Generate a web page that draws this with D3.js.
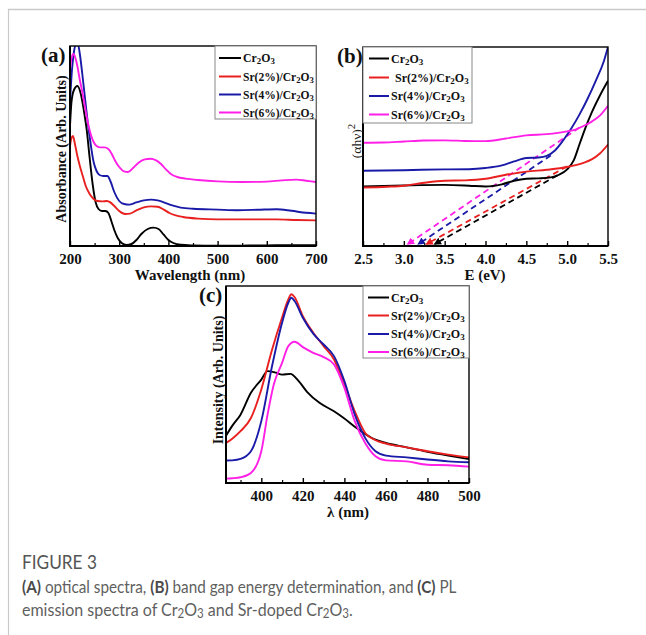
<!DOCTYPE html>
<html><head><meta charset="utf-8">
<script src="https://cdn.jsdelivr.net/npm/d3@7"></script>
<style>body{margin:0;background:#fff}svg{display:block}</style>
</head><body>
<svg id="fig" width="646" height="635"></svg>
<script>
// ---------- DATA ----------
const seriesPrefix = ["", "Sr(2%)/", "Sr(4%)/", "Sr(6%)/"];
const seriesColors = ["#000000", "#e8201f", "#1a1aa8", "#ff1fe6"];

// Panel (a) absorbance vs wavelength (nm)
const absCr2O3 = [[200,60],[203,72],[208,78],[215,80],[222,76],[228,68],[234,58],[240,44],[246,31],[252,22],[258,18.5],[265,17.5],[272,17.5],[278,16.5],[284,12.5],[290,8],[297,4],[305,1.5],[315,0.5],[325,1],[335,3],[345,6],[358,8.5],[370,9.2],[380,8.5],[390,5.8],[400,3],[410,1.5],[425,0.6],[450,0.3],[500,0.1],[550,0.2],[600,0.3],[650,0.4],[700,0.4]];
const absSr2 = [[200,50],[203,54],[206,55],[210,51],[215,45],[220,40],[226,35],[232,30],[240,26],[248,23.5],[256,22.5],[265,22.3],[275,22.5],[282,21.8],[290,20],[300,17.5],[312,16],[322,16.2],[335,17.8],[350,19.3],[365,19.8],[378,19.6],[390,18.3],[402,16.5],[415,15.3],[430,14.5],[460,13.7],[500,13.3],[560,13.3],[620,13.3],[660,13],[700,12.8]];
const absSr4 = [[200,72],[204,88],[208,97],[212,101],[216,101],[220,96],[225,86],[230,75],[236,62],[242,51],[248,42],[254,37.5],[260,35.5],[268,35],[276,35],[282,32.5],[290,27],[300,22.5],[310,21],[320,20.7],[335,21.8],[350,22.8],[365,23.2],[378,22.8],[392,21.7],[408,20.3],[425,19.2],[450,18.6],[500,18.2],[540,17.9],[580,18.1],[620,18.4],[650,17.6],[680,16.6],[700,16.2]];
const absSr6 = [[200,88],[203,94],[207,96],[211,94],[215,90],[220,83],[225,77],[230,70],[236,62],[242,56],[248,52],[254,50],[262,49.3],[270,49.3],[278,48.5],[285,46],[292,42.5],[300,39.5],[310,37.3],[318,37],[328,39],[340,41.8],[352,43.3],[364,43.6],[375,42.8],[385,41],[395,38.3],[405,36],[418,34.5],[435,33.7],[460,33],[500,32.3],[550,32],[600,32.2],[630,32.8],[660,33.2],[680,32.6],[700,32]];
const absTicks = [200,300,400,500,600,700];
const absMinor = [250,350,450,550,650];

// Panel (b) (alpha h nu)^2 vs E (eV)
const taucCr2O3 = [[2.5,29.9],[3.0,30.4],[3.5,30.7],[3.8,30.3],[4.0,29.9],[4.2,31],[4.35,32.8],[4.5,33.8],[4.65,34],[4.8,34.5],[4.9,35.8],[5.0,38.5],[5.08,43],[5.15,51],[5.22,59],[5.3,67],[5.4,75.5],[5.5,83]];
const taucSr2 = [[2.5,29.4],[2.8,29.8],[3.0,30.3],[3.25,31.8],[3.5,32.8],[3.75,33],[4.0,33.8],[4.25,35.8],[4.5,37.4],[4.75,38.3],[5.0,39.7],[5.2,41.8],[5.3,43.5],[5.4,46.5],[5.5,51]];
const taucSr4 = [[2.5,37.8],[3.0,38.1],[3.5,38.5],[3.8,38.6],[4.0,39.2],[4.2,40.5],[4.35,42.5],[4.5,44.2],[4.65,44.5],[4.75,45.3],[4.85,48],[4.95,53],[5.05,59],[5.15,66],[5.25,74],[5.35,83],[5.45,93],[5.5,100]];
const taucSr6 = [[2.5,51.9],[2.75,52],[3.0,52.5],[3.25,53],[3.5,53.1],[3.75,52.8],[4.0,52.7],[4.25,54],[4.5,55.6],[4.75,56.2],[5.0,57.6],[5.1,58.5],[5.2,60.3],[5.3,62.5],[5.4,65.5],[5.5,70.5]];
// tangent extrapolations: [upper point on curve, band-gap intercept]
const tangentLines = [
  [[4.88,35.5],[3.38,0]],
  [[5.0,40],[3.28,0]],
  [[4.8,45.5],[3.18,0]],
  [[5.15,59.5],[3.05,0]]
];
const tauTicks = [2.5,3.0,3.5,4.0,4.5,5.0,5.5];
const tauMinor = [2.75,3.25,3.75,4.25,4.75,5.25];

// Panel (c) PL intensity vs lambda (nm)
const plCr2O3 = [[383,24],[386,29],[390,34.7],[395,45.8],[400,52.5],[403,56.8],[407,56],[410,55],[414,55.4],[418,51.7],[422,46.3],[428,40.7],[435,36.4],[440,32.7],[445,28.5],[450,24.9],[455,22],[460,20.3],[470,18.1],[480,15.8],[490,13.9],[500,12.2]];
const plSr2 = [[383,20.3],[386,22.5],[390,26.3],[395,33],[400,47.5],[405,67],[410,84],[413,93.2],[414.5,95.8],[416,94.4],[420,84.7],[425,76.3],[430,69.5],[435,62.7],[440,50],[445,36.4],[450,25.4],[455,21.7],[460,20],[470,18.1],[480,16.1],[490,14.4],[500,13]];
const plSr4 = [[383,11.4],[386,11.5],[390,12.2],[395,16.1],[400,31.4],[405,58.5],[410,81.4],[413,91.5],[414.5,94],[416,92.4],[420,83.9],[425,75.8],[430,70.3],[435,64.4],[440,51.7],[445,34.7],[450,22.9],[455,16.1],[460,13.9],[470,13],[480,11.9],[490,11],[500,10.5]];
const plSr6 = [[383,2.2],[386,2.4],[390,2.9],[395,5.1],[400,16.1],[403,34.7],[406,50],[410,61],[413,69.5],[416,71.7],[420,69],[425,66.1],[430,63.9],[435,60.2],[440,48.3],[445,31.4],[450,20.3],[455,13.6],[460,11.5],[470,11],[480,9.3],[490,9],[500,8.3]];
const plTicks = [400,420,440,460,480,500];
const plMinor = [390,410,430,450,470,490];

// ---------- DRAWING ----------
const svg = d3.select("#fig");
const SERIF = "'Liberation Serif','Times New Roman',serif";

// card border
svg.append("line").attr("x1",8).attr("y1",9.5).attr("x2",646).attr("y2",9.5).attr("stroke","#c9c9c9").attr("stroke-width",1.5);
svg.append("line").attr("x1",8.5).attr("y1",9).attr("x2",8.5).attr("y2",635).attr("stroke","#c9c9c9").attr("stroke-width",1.2);

function subText(sel, prefix){
  sel.append("tspan").text(prefix + "Cr");
  sel.append("tspan").attr("baseline-shift","-25%").attr("font-size","0.75em").text("2");
  sel.append("tspan").text("O");
  sel.append("tspan").attr("baseline-shift","-25%").attr("font-size","0.75em").text("3");
}

function panel(cfg){
  const g = svg.append("g");
  const x = d3.scaleLinear().domain(cfg.xDomain).range([cfg.left, cfg.right]);
  const y = d3.scaleLinear().domain([0,100]).range([cfg.bottom, cfg.top]);
  const clipId = "clip" + cfg.id;
  svg.append("clipPath").attr("id", clipId).append("rect")
    .attr("x", cfg.left).attr("y", cfg.top).attr("width", cfg.right-cfg.left).attr("height", cfg.bottom-cfg.top);
  const line = d3.line().x(d=>x(d[0])).y(d=>y(d[1])).curve(d3.curveMonotoneX);
  const cg = g.append("g").attr("clip-path", `url(#${clipId})`);
  if (cfg.extra) cfg.extra(cg, x, y);
  cfg.series.forEach((s,i)=>{
    cg.append("path").datum(s).attr("d", line).attr("fill","none")
      .attr("stroke", seriesColors[i]).attr("stroke-width", 1.9).attr("stroke-linejoin","round");
  });
  // axes
  const ax = g.append("g").attr("transform", `translate(0,${cfg.bottom})`)
    .call(d3.axisBottom(x).tickValues(cfg.ticks).tickSize(-5).tickSizeOuter(0).tickPadding(cfg.pad).tickFormat(cfg.fmt));
  ax.select(".domain").remove();
  ax.selectAll("line").attr("stroke","#000").attr("stroke-width",1.4);
  ax.selectAll("text").attr("font-family",SERIF).attr("font-weight","bold").attr("font-size",15).attr("fill","#111");
  const am = g.append("g").attr("transform", `translate(0,${cfg.bottom})`)
    .call(d3.axisBottom(x).tickValues(cfg.minor).tickSize(-3).tickSizeOuter(0).tickFormat(""));
  am.select(".domain").remove();
  am.selectAll("line").attr("stroke","#000").attr("stroke-width",1.2);
  // frame
  g.append("rect").attr("x",cfg.left).attr("y",cfg.top).attr("width",cfg.right-cfg.left).attr("height",cfg.bottom-cfg.top)
    .attr("fill","none").attr("stroke","#000").attr("stroke-width",1.4);
  g.append("line").attr("x1",cfg.left).attr("x2",cfg.left).attr("y1",cfg.top).attr("y2",cfg.bottom+1).attr("stroke","#000").attr("stroke-width",2);
  g.append("line").attr("x1",cfg.left-1).attr("x2",cfg.right).attr("y1",cfg.bottom).attr("y2",cfg.bottom).attr("stroke","#000").attr("stroke-width",2);
  // legend
  const L = cfg.legend;
  g.append("rect").attr("x",L.x0).attr("y",L.y0).attr("width",L.x1-L.x0).attr("height",L.y1-L.y0)
    .attr("fill","#fff").attr("stroke","#888").attr("stroke-width",1);
  seriesPrefix.forEach((p,i)=>{
    const yy = L.rows[i];
    g.append("line").attr("x1",L.lx0).attr("x2",L.lx1).attr("y1",yy).attr("y2",yy)
      .attr("stroke",seriesColors[i]).attr("stroke-width",2);
    const tx = L.tx + (L.indent && i===1 ? L.indent : 0);
    const t = g.append("text").attr("x", tx).attr("y", yy+4)
      .attr("font-family",SERIF).attr("font-weight","bold").attr("font-size",L.fs).attr("fill","#111");
    subText(t, p);
    const w = t.node().getComputedTextLength();
    const maxW = L.x1 - 2 - tx;
    if (w > maxW) t.attr("font-size", L.fs * maxW / w);
  });
  // panel letter
  g.append("text").attr("x",cfg.letter[0]).attr("y",cfg.letter[1]).attr("font-family",SERIF)
    .attr("font-weight","bold").attr("font-size",21).attr("fill","#111").text(cfg.letterText);
  // titles
  g.append("text").attr("x",cfg.xt[0]).attr("y",cfg.xt[1]).attr("text-anchor","middle")
    .attr("font-family",SERIF).attr("font-weight","bold").attr("font-size",15).attr("fill","#111").text(cfg.xTitle);
  if (cfg.yTitle) {
    g.append("text").attr("transform",`translate(${cfg.yt[0]},${cfg.yt[1]}) rotate(-90)`).attr("text-anchor","middle")
      .attr("font-family",SERIF).attr("font-weight","bold").attr("font-size",cfg.ytSize).attr("fill","#111").text(cfg.yTitle);
  }
  return {g,x,y};
}

// Panel (a)
panel({
  id:"a", left:70, right:316, top:46, bottom:246, xDomain:[200,700],
  series:[absCr2O3, absSr2, absSr4, absSr6],
  ticks:absTicks, minor:absMinor, pad:7, fmt:d3.format("d"),
  legend:{x0:215,y0:46,x1:316,y1:119,lx0:219,lx1:241,tx:243,rows:[58,76.5,94.5,112.5],fs:11.8},
  letter:[41,62], letterText:"(a)",
  xt:[190,280], xTitle:"Wavelength (nm)",
  yt:[66,149], yTitle:"Absorbance (Arb. Units)", ytSize:14
});

// Panel (b)
panel({
  id:"b", left:363, right:608, top:47, bottom:246, xDomain:[2.5,5.5],
  series:[taucCr2O3, taucSr2, taucSr4, taucSr6],
  ticks:tauTicks, minor:tauMinor, pad:7, fmt:d3.format(".1f"),
  legend:{x0:363,y0:47,x1:472,y1:123,lx0:369,lx1:389,tx:391,indent:4,rows:[58.5,77.5,96,114.5],fs:12},
  letter:[337,63], letterText:"(b)",
  xt:[485,280], xTitle:"E (eV)",
  extra:(cg,x,y)=>{
    const defs = svg.append("defs");
    seriesColors.forEach((c,i)=>{
      defs.append("marker").attr("id","arr"+i).attr("viewBox","0 0 10 10").attr("refX",8).attr("refY",5)
        .attr("markerWidth",4.2).attr("markerHeight",4.2).attr("orient","auto").attr("markerUnits","strokeWidth")
        .append("path").attr("d","M0,0L10,5L0,10z").attr("fill",c);
    });
    tangentLines.forEach((seg,i)=>{
      cg.append("line").attr("x1",x(seg[0][0])).attr("y1",y(seg[0][1])).attr("x2",x(seg[1][0])).attr("y2",y(seg[1][1])-2)
        .attr("stroke",seriesColors[i]).attr("stroke-width",1.8).attr("stroke-dasharray","6,4")
        .attr("marker-end",`url(#arr${i})`);
    });
  }
});
// (alpha h nu)^2 label for panel (b)
const yl = svg.append("text").attr("transform","translate(361,141) rotate(-90)").attr("text-anchor","middle")
  .attr("font-family",SERIF).attr("font-size",13.5).attr("fill","#222");
yl.append("tspan").text("(αhν)");
yl.append("tspan").attr("baseline-shift","super").attr("font-size","0.8em").text("2");

// Panel (c)
panel({
  id:"c", left:226, right:469, top:286, bottom:483, xDomain:[383,500],
  series:[plCr2O3, plSr2, plSr4, plSr6],
  ticks:plTicks, minor:plMinor, pad:7, fmt:d3.format("d"),
  legend:{x0:363,y0:286,x1:469,y1:358,lx0:368,lx1:389,tx:391,rows:[297.5,315.5,334,352],fs:12},
  letter:[199,302], letterText:"(c)",
  xt:[348,517], xTitle:"λ (nm)",
  yt:[223,380], yTitle:"Intensity (Arb. Units)", ytSize:14
});

// Caption
const CAP = "Lato,'Open Sans',sans-serif";
const f3 = svg.append("text").attr("font-family",CAP).attr("font-size",17)
  .attr("fill","#555").text("FIGURE 3");
const c1 = svg.append("text").attr("font-family",CAP).attr("font-size",16).attr("fill","#5f5f5f");
c1.append("tspan").attr("font-weight","bold").attr("fill","#4a4a4a").text("(A)");
c1.append("tspan").text(" optical spectra, ");
c1.append("tspan").attr("font-weight","bold").attr("fill","#4a4a4a").text("(B)");
c1.append("tspan").text(" band gap energy determination, and ");
c1.append("tspan").attr("font-weight","bold").attr("fill","#4a4a4a").text("(C)");
c1.append("tspan").text(" PL");
const c2 = svg.append("text").attr("font-family",CAP).attr("font-size",16).attr("fill","#5f5f5f");
c2.append("tspan").text("emission spectra of Cr");
c2.append("tspan").attr("baseline-shift","-20%").attr("font-size","0.72em").text("2");
c2.append("tspan").text("O");
c2.append("tspan").attr("baseline-shift","-20%").attr("font-size","0.72em").text("3");
c2.append("tspan").text(" and Sr-doped Cr");
c2.append("tspan").attr("baseline-shift","-20%").attr("font-size","0.72em").text("2");
c2.append("tspan").text("O");
c2.append("tspan").attr("baseline-shift","-20%").attr("font-size","0.72em").text("3");
c2.append("tspan").text(".");
// fit caption font size to the reference line widths, then stretch glyphs a little taller
[[f3,75,17,569],[c1,435,16,593],[c2,331,16,616]].forEach(([t,w,fs,yb])=>{
  const L = t.node().getComputedTextLength();
  if (L > 0) t.attr("font-size", fs * w / L);
  t.attr("transform", `translate(22,${yb}) scale(1,1.1)`);
});
</script>
</body></html>
